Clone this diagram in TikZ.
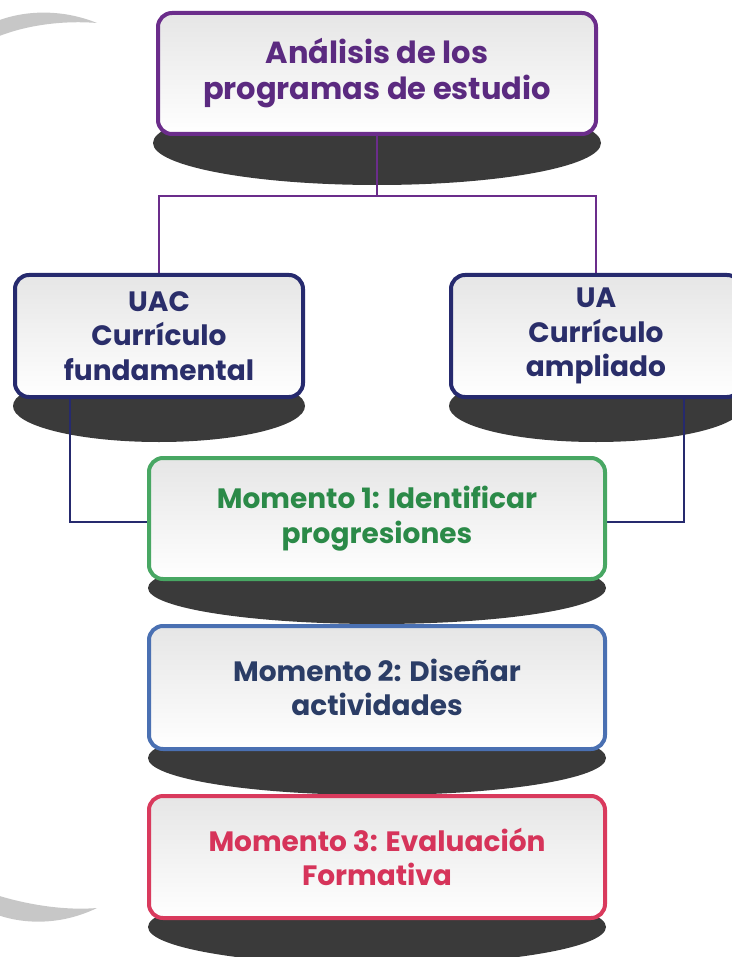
\documentclass[tikz,border=0pt]{standalone}
\usepackage{fontspec}
\setmainfont{Poppins}
\usetikzlibrary{calc,backgrounds}
\definecolor{purp}{HTML}{6B2D8B}
\definecolor{purptxt}{HTML}{5B2A80}
\definecolor{navy}{HTML}{262A6E}
\definecolor{navytxt}{HTML}{2A2E6A}
\definecolor{grn}{HTML}{48A763}
\definecolor{grntxt}{HTML}{2B8A48}
\definecolor{blu}{HTML}{4A70B2}
\definecolor{blutxt}{HTML}{2B3D66}
\definecolor{rd}{HTML}{D93A5D}
\definecolor{rdtxt}{HTML}{D6345A}
\definecolor{shad}{HTML}{3A3A3A}
\definecolor{cres}{HTML}{C7C7C7}
\begin{document}
\begin{tikzpicture}[x=1pt,y=-1pt,
  box/.style={rectangle, rounded corners=14pt, line width=4pt,
    top color=black!10, bottom color=white, align=center,
    font=\bfseries\fontsize{28}{34.5}\selectfont, inner sep=0pt},
  bigtext/.style={font=\bfseries\fontsize{30.5}{36}\selectfont},
  shadowfill/.style={fill=shad},
  conn/.style={line width=2.5pt}]
\useasboundingbox (0,0) rectangle (731,957);
% decorative crescents
\fill[cres] (-10,24) .. controls (20,10) and (60,8) .. (97,23)
  .. controls (60,20) and (20,26) .. (-10,40) -- cycle;
\fill[cres] (-10,912) .. controls (20,925) and (60,926) .. (97,908)
  .. controls (60,911) and (20,903) .. (-10,893) -- cycle;
% boxes
\node[box, bigtext, draw=purp, text=purptxt, minimum width=438pt, minimum height=121pt] (top) at (377,73.5) {Análisis de los\\programas de estudio};
\node[box, draw=navy, text=navytxt, minimum width=288pt, minimum height=122pt] (uac) at (159,336) {UAC\\Currículo\\fundamental};
\node[box, draw=navy, text=navytxt, minimum width=290pt, minimum height=122pt] (ua) at (596,336) {UA\\Currículo\\ampliado};
\node[box, draw=grn, text=grntxt, minimum width=456pt, minimum height=121pt] (m1) at (377,518.5) {Momento 1: Identificar\\progresiones};
\node[box, draw=blu, text=blutxt, minimum width=456pt, minimum height=123pt] (m2) at (377,687.5) {Momento 2: Diseñar\\actividades};
\node[box, draw=rd, text=rdtxt, minimum width=456pt, minimum height=122pt] (m3) at (377,857) {Momento 3: Evaluación\\Formativa};
\begin{scope}[on background layer]
  \fill[shadowfill] ($(top.south)+(0,7)$) ellipse [x radius=224, y radius=42];
  \fill[shadowfill] ($(uac.south)+(0,7)$) ellipse [x radius=146, y radius=36];
  \fill[shadowfill] ($(ua.south)+(0,7)$) ellipse [x radius=147, y radius=36];
  \fill[shadowfill] ($(m1.south)+(0,7)$) ellipse [x radius=229, y radius=36];
  \fill[shadowfill] ($(m2.south)+(0,7)$) ellipse [x radius=229, y radius=37];
  \fill[shadowfill] ($(m3.south)+(0,7)$) ellipse [x radius=229, y radius=38];
  \draw[conn, purp] (top.south) -- ++(0,60) coordinate (j) -| (uac.north);
  \draw[conn, purp] (j) -| (ua.north);
  \draw[conn, navy] ([xshift=-89pt]uac.south) |- ([yshift=-3.5pt]m1.west);
  \draw[conn, navy] ([xshift=88pt]ua.south) |- ([yshift=-3.5pt]m1.east);
\end{scope}
\end{tikzpicture}
\end{document}
